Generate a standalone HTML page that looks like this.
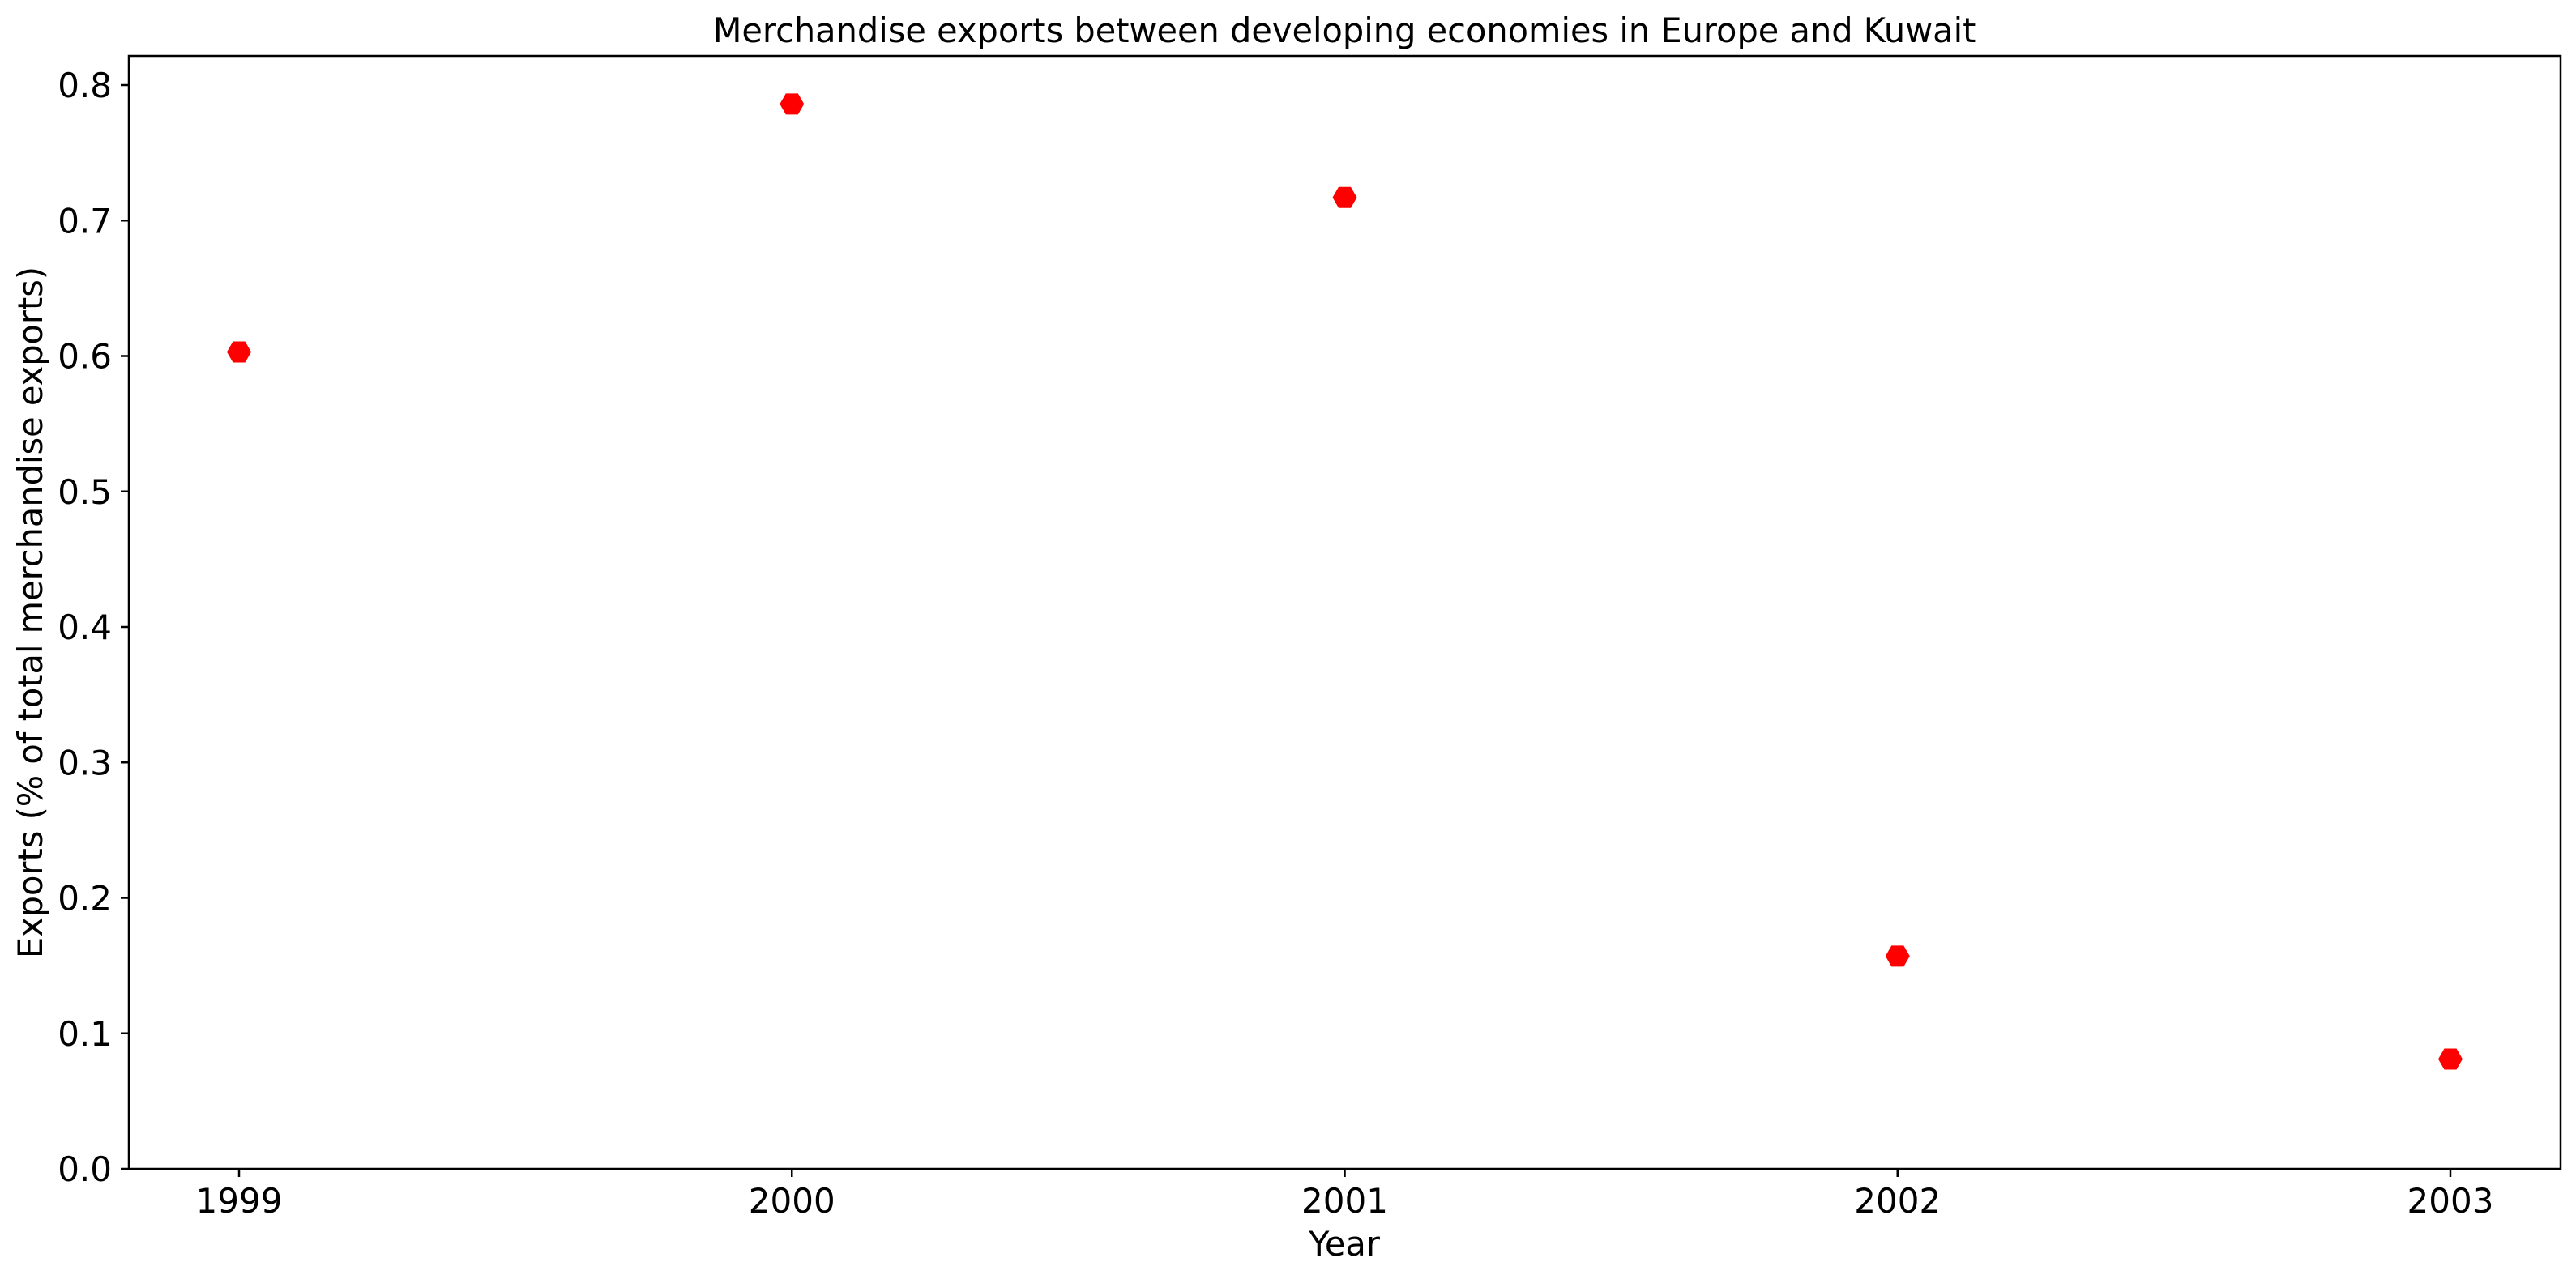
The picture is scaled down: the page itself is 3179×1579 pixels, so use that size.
<!DOCTYPE html>
<html><head><meta charset="utf-8"><style>
html,body{margin:0;padding:0;background:#fff;}
svg{display:block;font-family:"DejaVu Sans","Liberation Sans",sans-serif;}
</style></head><body>
<svg id="chart" width="3179" height="1579" viewBox="0 0 3179 1579">
<rect width="3179" height="1579" fill="#fff"/>
<text x="1659" y="52" font-size="41.5" text-anchor="middle">Merchandise exports between developing economies in Europe and Kuwait</text>
<text x="1659" y="1550" font-size="41.5" text-anchor="middle">Year</text>
<text transform="translate(52,756) rotate(-90)" font-size="41.5" text-anchor="middle">Exports (% of total merchandise exports)</text>
<g id="ticks"></g>
<g id="points"></g>
<rect x="159" y="69" width="3001" height="1374" fill="none" stroke="#000" stroke-width="2.5"/>
</svg>
<script>
const years = [1999, 2000, 2001, 2002, 2003];
const values = [0.603, 0.786, 0.717, 0.157, 0.081];
const yTicks = [0.0, 0.1, 0.2, 0.3, 0.4, 0.5, 0.6, 0.7, 0.8];
const yTickLabels = ["0.0","0.1","0.2","0.3","0.4","0.5","0.6","0.7","0.8"];

const NS = "http://www.w3.org/2000/svg";
function xScale(v){ return 295 + (v - 1999) * (3024 - 295) / 4; }
function yScale(v){ return 1443 - v * (1443 - 105) / 0.8; }
const tg = document.getElementById('ticks');
const pg = document.getElementById('points');

yTicks.forEach((t, i) => {
  const y = yScale(t);
  const l = document.createElementNS(NS, 'line');
  l.setAttribute('x1', 149); l.setAttribute('x2', 159);
  l.setAttribute('y1', y); l.setAttribute('y2', y);
  l.setAttribute('stroke', '#000'); l.setAttribute('stroke-width', 2.5);
  
  
  tg.appendChild(l);
  const tx = document.createElementNS(NS, 'text');
  tx.setAttribute('x', 138); tx.setAttribute('y', y + 15);
  tx.setAttribute('font-size', 42); tx.setAttribute('text-anchor', 'end');
  tx.textContent = yTickLabels[i];
  
  
  tg.appendChild(tx);
});

years.forEach((yr, i) => {
  const x = xScale(yr);
  const l = document.createElementNS(NS, 'line');
  l.setAttribute('x1', x); l.setAttribute('x2', x);
  l.setAttribute('y1', 1443); l.setAttribute('y2', 1453);
  l.setAttribute('stroke', '#000'); l.setAttribute('stroke-width', 2.5);
  
  
  tg.appendChild(l);
  const tx = document.createElementNS(NS, 'text');
  tx.setAttribute('x', x); tx.setAttribute('y', 1497);
  tx.setAttribute('font-size', 42); tx.setAttribute('text-anchor', 'middle');
  tx.textContent = String(yr);
  
  
  tg.appendChild(tx);

  const cx = x, cy = yScale(values[i]), r = 15;
  const pts = [];
  for (let k = 0; k < 6; k++) {
    const a = k * Math.PI / 3;
    pts.push((cx + r * Math.cos(a)).toFixed(1) + ',' + (cy + r * Math.sin(a)).toFixed(1));
  }
  const p = document.createElementNS(NS, 'polygon');
  p.setAttribute('points', pts.join(' '));
  p.setAttribute('fill', '#ff0000');
  
  
  pg.appendChild(p);
});
</script>
</body></html>
